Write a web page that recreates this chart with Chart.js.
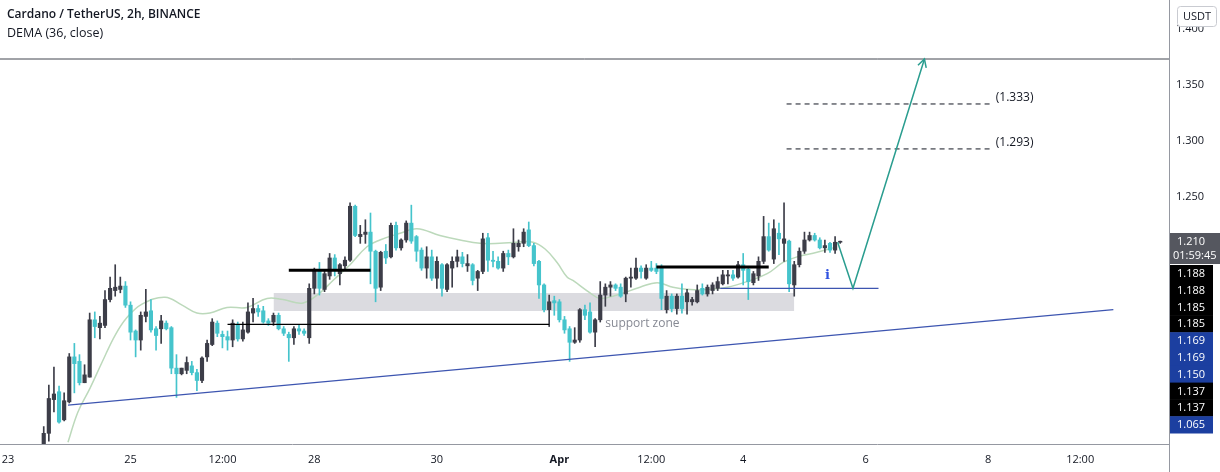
<!DOCTYPE html>
<html>
<head>
<meta charset="utf-8">
<script src="https://cdn.jsdelivr.net/npm/chart.js@4.4.1/dist/chart.umd.min.js"></script>
<style>
  html, body { margin: 0; padding: 0; background: #fff; }
  #wrap { width: 1220px; height: 472px; position: relative; }
</style>
</head>
<body>
<div id="wrap"><canvas id="chart"></canvas></div>
<script>
// 2h candles, first one opens Mar 23 14:00 (x axis = hours since Mar 23 00:00)
const firstHour = 14
const stepHours = 2

const opens = [
  1.028, 1.040, 1.070, 1.077, 1.052, 1.068, 1.108, 1.104, 1.085, 1.090,
  1.141, 1.134, 1.136, 1.159, 1.167, 1.168, 1.171, 1.154, 1.131, 1.123,
  1.144, 1.149, 1.133, 1.133, 1.138, 1.134, 1.098, 1.093, 1.096, 1.100,
  1.094, 1.087, 1.108, 1.119, 1.138, 1.128, 1.126, 1.123, 1.137, 1.124,
  1.130, 1.147, 1.151, 1.149, 1.140, 1.139, 1.145, 1.133, 1.128, 1.125,
  1.133, 1.131, 1.125, 1.169, 1.185, 1.168, 1.180, 1.196, 1.182, 1.189,
  1.194, 1.242, 1.215, 1.217, 1.219, 1.202, 1.170, 1.202, 1.197, 1.225,
  1.205, 1.212, 1.227, 1.215, 1.203, 1.187, 1.197, 1.178, 1.190, 1.168,
  1.187, 1.193, 1.197, 1.189, 1.190, 1.178, 1.184, 1.214, 1.194, 1.193,
  1.187, 1.200, 1.197, 1.206, 1.209, 1.221, 1.207, 1.193, 1.172, 1.150,
  1.158, 1.157, 1.141, 1.133, 1.121, 1.123, 1.150, 1.148, 1.130, 1.141,
  1.163, 1.170, 1.172, 1.170, 1.164, 1.178, 1.178, 1.187, 1.178, 1.187,
  1.187, 1.187, 1.150, 1.162, 1.151, 1.162, 1.157, 1.157, 1.157, 1.169,
  1.164, 1.167, 1.169, 1.173, 1.180, 1.181, 1.179, 1.190, 1.186, 1.174,
  1.180, 1.193, 1.215, 1.195, 1.218, 1.209, 1.211, 1.172, 1.190, 1.202,
  1.212, 1.216, 1.212, 1.205, 1.209, 1.203, 1.210
]
const highs = [
  1.046, 1.083, 1.099, 1.082, 1.076, 1.111, 1.120, 1.110, 1.101, 1.147,
  1.148, 1.144, 1.167, 1.179, 1.190, 1.179, 1.175, 1.157, 1.132, 1.148,
  1.168, 1.159, 1.135, 1.145, 1.140, 1.135, 1.110, 1.098, 1.108, 1.104,
  1.097, 1.108, 1.123, 1.142, 1.140, 1.131, 1.131, 1.141, 1.139, 1.139,
  1.156, 1.160, 1.154, 1.153, 1.142, 1.147, 1.147, 1.135, 1.130, 1.135,
  1.137, 1.133, 1.173, 1.187, 1.192, 1.185, 1.200, 1.199, 1.191, 1.197,
  1.245, 1.243, 1.225, 1.230, 1.236, 1.203, 1.202, 1.208, 1.227, 1.228,
  1.213, 1.229, 1.243, 1.216, 1.205, 1.206, 1.203, 1.197, 1.191, 1.191,
  1.197, 1.203, 1.201, 1.199, 1.191, 1.185, 1.218, 1.218, 1.202, 1.197,
  1.202, 1.203, 1.222, 1.212, 1.222, 1.228, 1.209, 1.194, 1.173, 1.163,
  1.162, 1.159, 1.144, 1.135, 1.134, 1.151, 1.154, 1.156, 1.142, 1.175,
  1.173, 1.175, 1.173, 1.173, 1.179, 1.187, 1.196, 1.189, 1.190, 1.193,
  1.191, 1.190, 1.167, 1.164, 1.164, 1.173, 1.168, 1.161, 1.172, 1.173,
  1.172, 1.174, 1.179, 1.185, 1.185, 1.185, 1.193, 1.200, 1.188, 1.184,
  1.197, 1.233, 1.227, 1.230, 1.227, 1.245, 1.212, 1.193, 1.205, 1.219,
  1.219, 1.218, 1.214, 1.212, 1.210, 1.215, 1.211
]
const lows = [
  1.020, 1.033, 1.059, 1.049, 1.051, 1.067, 1.076, 1.083, 1.085, 1.090,
  1.125, 1.124, 1.134, 1.157, 1.162, 1.165, 1.152, 1.123, 1.108, 1.114,
  1.139, 1.130, 1.114, 1.120, 1.132, 1.093, 1.072, 1.092, 1.093, 1.092,
  1.078, 1.085, 1.104, 1.118, 1.126, 1.116, 1.114, 1.117, 1.122, 1.122,
  1.129, 1.139, 1.144, 1.138, 1.136, 1.136, 1.132, 1.127, 1.104, 1.119,
  1.128, 1.127, 1.120, 1.164, 1.163, 1.166, 1.177, 1.180, 1.172, 1.185,
  1.193, 1.215, 1.209, 1.209, 1.173, 1.157, 1.167, 1.191, 1.196, 1.203,
  1.203, 1.210, 1.209, 1.193, 1.185, 1.178, 1.176, 1.169, 1.162, 1.166,
  1.170, 1.188, 1.188, 1.184, 1.172, 1.167, 1.182, 1.184, 1.188, 1.186,
  1.184, 1.190, 1.196, 1.202, 1.206, 1.206, 1.189, 1.160, 1.148, 1.135,
  1.145, 1.139, 1.129, 1.104, 1.120, 1.121, 1.141, 1.129, 1.117, 1.139,
  1.153, 1.162, 1.167, 1.161, 1.157, 1.170, 1.177, 1.178, 1.177, 1.184,
  1.182, 1.150, 1.147, 1.148, 1.146, 1.147, 1.146, 1.154, 1.156, 1.163,
  1.162, 1.164, 1.167, 1.172, 1.173, 1.176, 1.178, 1.172, 1.159, 1.172,
  1.176, 1.191, 1.202, 1.191, 1.199, 1.193, 1.166, 1.162, 1.188, 1.200,
  1.211, 1.211, 1.204, 1.201, 1.201, 1.200, 1.209
]
const closes = [
  1.040, 1.071, 1.075, 1.050, 1.069, 1.108, 1.102, 1.085, 1.092, 1.141,
  1.135, 1.138, 1.159, 1.169, 1.170, 1.171, 1.154, 1.130, 1.123, 1.145,
  1.148, 1.132, 1.127, 1.140, 1.133, 1.098, 1.093, 1.098, 1.103, 1.094,
  1.087, 1.107, 1.120, 1.139, 1.129, 1.126, 1.123, 1.138, 1.124, 1.132,
  1.148, 1.151, 1.148, 1.139, 1.138, 1.145, 1.133, 1.129, 1.125, 1.133,
  1.131, 1.129, 1.169, 1.185, 1.169, 1.182, 1.196, 1.185, 1.190, 1.194,
  1.242, 1.216, 1.217, 1.219, 1.202, 1.169, 1.201, 1.196, 1.225, 1.205,
  1.212, 1.227, 1.211, 1.202, 1.187, 1.197, 1.178, 1.193, 1.169, 1.190,
  1.193, 1.197, 1.191, 1.191, 1.176, 1.184, 1.213, 1.194, 1.193, 1.187,
  1.200, 1.197, 1.209, 1.209, 1.219, 1.207, 1.191, 1.172, 1.150, 1.157,
  1.156, 1.141, 1.132, 1.121, 1.123, 1.150, 1.145, 1.130, 1.141, 1.163,
  1.170, 1.172, 1.169, 1.162, 1.178, 1.179, 1.187, 1.184, 1.187, 1.185,
  1.184, 1.160, 1.162, 1.151, 1.162, 1.151, 1.165, 1.159, 1.167, 1.164,
  1.170, 1.172, 1.175, 1.181, 1.181, 1.178, 1.190, 1.185, 1.175, 1.182,
  1.193, 1.215, 1.203, 1.222, 1.213, 1.213, 1.173, 1.190, 1.202, 1.212,
  1.216, 1.212, 1.205, 1.207, 1.203, 1.210, 1.210
]

// DEMA (36, close)
const demaHours = [
  23.5, 27.4, 32.1, 36.8, 41.9, 46.6, 52.5, 61.5, 68.2, 74.0, 79.1, 85.8,
  93.6, 101.5, 107.7, 115.6, 122.2, 127.3, 134.0, 140.6, 145.7, 153.6,
  160.2, 169.2, 177.1, 184.9, 192.7, 199.4, 205.7, 210.4, 215.1, 219.0,
  221.3, 228.0, 231.9, 238.6, 247.6, 254.3, 260.5, 267.2, 273.9, 281.7,
  289.5, 297.4, 303.6, 309.1, 316.9, 323.2
]
const demaValues = [
  1.032, 1.059, 1.080, 1.103, 1.127, 1.143, 1.155, 1.161, 1.154, 1.147, 1.147, 1.152,
  1.152, 1.160, 1.159, 1.156, 1.165, 1.176, 1.190, 1.206, 1.212, 1.218,
  1.222, 1.216, 1.212, 1.209, 1.209, 1.210, 1.210, 1.204, 1.192, 1.179,
  1.176, 1.165, 1.160, 1.163, 1.170, 1.174, 1.170, 1.168, 1.168, 1.170,
  1.175, 1.182, 1.192, 1.197, 1.201, 1.205
]

const xTickHours = [0, 48, 84, 120, 168, 216, 252, 288, 336, 384, 420]
const xTickLabels = ['23', '25', '12:00', '28', '30', 'Apr', '12:00', '4', '6', '8', '12:00']
const yTicks = [1.25, 1.3, 1.35, 1.4]

// drawings: [hour, price]
const supportZone = [[104, 1.1648], [308, 1.1648]]
const supportZoneBottom = 1.1488
const rangeLine = [[86, 1.137], [212, 1.137]]
const breakLine1 = [[110, 1.185], [142, 1.185]]
const breakLine2 = [[254, 1.188], [298, 1.188]]
const retestLine = [[279, 1.169], [341, 1.169]]
const trendLine = [[23.5, 1.065], [433, 1.150]]
const topLine = [[-10, 1.373], [470, 1.373]]
const projection = [[325, 1.210], [331, 1.169], [359, 1.373]]
const targets = [1.333, 1.293]
const targetSpan = [305, 385]

const lastPrice = '1.210'
const countdown = '01:59:45'
const axisTags = ['1.188', '1.188', '1.185', '1.185', '1.169', '1.169', '1.150', '1.137', '1.137', '1.065']
const blueTags = ['1.169', '1.150', '1.065']

const UP = '#3c3d48'
const DOWN = '#45c4cc'
const FONT = '"Open Sans", "DejaVu Sans", sans-serif'

const times = opens.map((_, i) => firstHour + i * stepHours)
const isUp = closes.map((c, i) => c >= opens[i])
const pts = (arr) => arr.map(([x, y]) => ({ x, y }))

function lineSet(data, color, width, order, extra) {
  return Object.assign({
    type: 'line',
    data: pts(data),
    borderColor: color,
    borderWidth: width,
    pointRadius: 0,
    tension: 0,
    order,
  }, extra || {})
}

const overlay = {
  id: 'overlay',
  afterDatasetsDraw(chart) {
    const { ctx, scales: { x, y } } = chart
    ctx.save()
    // target labels
    ctx.font = '12px ' + FONT
    ctx.fillStyle = '#131722'
    ctx.textBaseline = 'middle'
    ctx.textAlign = 'left'
    targets.forEach((v) => {
      ctx.fillText('(' + v.toFixed(3) + ')', x.getPixelForValue(targetSpan[1]) + 5, y.getPixelForValue(v) - 6)
    })
    // support zone label
    ctx.fillStyle = '#868993'
    ctx.fillText('support zone', x.getPixelForValue(234), y.getPixelForValue(1.138))
    // info marker
    ctx.fillStyle = '#2f52e0'
    ctx.font = 'bold 13px "DejaVu Serif", serif'
    ctx.textAlign = 'center'
    ctx.fillText('i', x.getPixelForValue(321), y.getPixelForValue(1.180))
    // arrow head
    const a = projection[projection.length - 2]
    const b = projection[projection.length - 1]
    const ax = x.getPixelForValue(a[0]), ay = y.getPixelForValue(a[1])
    const bx = x.getPixelForValue(b[0]), by = y.getPixelForValue(b[1])
    const ang = Math.atan2(by - ay, bx - ax)
    ctx.strokeStyle = '#2a9d8f'
    ctx.lineWidth = 1.5
    ctx.beginPath()
    ctx.moveTo(bx - 9 * Math.cos(ang - 0.5), by - 9 * Math.sin(ang - 0.5))
    ctx.lineTo(bx, by)
    ctx.lineTo(bx - 9 * Math.cos(ang + 0.5), by - 9 * Math.sin(ang + 0.5))
    ctx.stroke()
    ctx.restore()
  },
  afterDraw(chart) {
    const { ctx, chartArea, scales: { y } } = chart
    const left = chartArea.right
    ctx.save()
    // header legend
    ctx.textAlign = 'left'
    ctx.textBaseline = 'middle'
    ctx.fillStyle = '#131722'
    ctx.font = '600 12px ' + FONT
    ctx.fillText('Cardano / TetherUS, 2h, BINANCE', 7, 15)
    ctx.font = '12.5px ' + FONT
    ctx.fillText('DEMA (36, close)', 7, 33)

    // axis line continues to the bottom
    ctx.strokeStyle = '#9598a1'
    ctx.lineWidth = 1
    ctx.beginPath()
    ctx.moveTo(left + 0.5, chartArea.bottom)
    ctx.lineTo(left + 0.5, chart.height)
    ctx.stroke()

    // USDT unit box
    ctx.fillStyle = '#fff'
    ctx.strokeStyle = '#c9cbd1'
    ctx.beginPath()
    ctx.roundRect(left + 8.5, 6.5, 39, 20, 3)
    ctx.fill()
    ctx.stroke()
    ctx.fillStyle = '#131722'
    ctx.font = '11px ' + FONT
    ctx.textAlign = 'center'
    ctx.fillText('USDT', left + 28, 17)

    // last price + countdown
    const py = y.getPixelForValue(parseFloat(lastPrice))
    const top = Math.round(py - 9)
    ctx.fillStyle = '#55575f'
    ctx.fillRect(left + 1, top, chart.width - left - 1, 31)
    ctx.fillStyle = '#fff'
    ctx.textAlign = 'left'
    ctx.fillText(lastPrice, left + 8, top + 9)
    ctx.fillText(countdown, left + 4, top + 23)

    // drawing price tags, stacked
    let ty = top + 32
    const h = 16.8
    axisTags.forEach((t) => {
      ctx.fillStyle = blueTags.includes(t) ? '#1c3fa0' : '#000000'
      ctx.fillRect(left + 1, ty, 43, h + 0.5)
      ctx.fillStyle = '#fff'
      ctx.fillText(t, left + 8, ty + h / 2 + 0.5)
      ty += h
    })
    ctx.restore()
  },
}

new Chart(document.getElementById('chart'), {
  type: 'bar',
  data: {
    datasets: [
      lineSet(projection, '#2a9d8f', 1.5, 1),
      lineSet(breakLine1, '#000000', 3, 2),
      lineSet(breakLine2, '#000000', 3, 2),
      lineSet(rangeLine, '#000000', 1.2, 2),
      lineSet(retestLine, '#3d55b0', 1.2, 2),
      lineSet(trendLine, '#3d55b0', 1.2, 2),
      lineSet(topLine, '#434651', 1, 2),
      ...targets.map((v) => lineSet([[targetSpan[0], v], [targetSpan[1], v]], '#131722', 1, 2, { borderDash: [5, 4] })),
      {
        type: 'bar',
        data: times.map((t, i) => ({ x: t, y: [opens[i], closes[i]] })),
        backgroundColor: isUp.map((u) => (u ? UP : DOWN)),
        barThickness: 3.5,
        minBarLength: 1,
        grouped: false,
        order: 5,
      },
      {
        type: 'bar',
        data: times.map((t, i) => ({ x: t, y: [lows[i], highs[i]] })),
        backgroundColor: isUp.map((u) => (u ? UP : DOWN)),
        barThickness: 1,
        grouped: false,
        order: 6,
      },
      {
        type: 'line',
        data: demaHours.map((h, i) => ({ x: h, y: demaValues[i] })),
        borderColor: '#bcd9bb',
        borderWidth: 1.5,
        pointRadius: 0,
        tension: 0.4,
        order: 8,
      },
      lineSet(supportZone, 'rgba(0,0,0,0)', 0, 10, {
        fill: { value: supportZoneBottom },
        backgroundColor: 'rgba(190,190,198,0.55)',
      }),
    ],
  },
  options: {
    responsive: true,
    maintainAspectRatio: false,
    animation: false,
    events: [],
    layout: { padding: 0 },
    plugins: { legend: { display: false }, tooltip: { enabled: false } },
    scales: {
      x: {
        type: 'linear',
        min: -3.13,
        max: 454.8,
        offset: false,
        grid: { display: false },
        border: { display: true, color: '#9598a1' },
        afterBuildTicks: (s) => { s.ticks = xTickHours.map((v) => ({ value: v })) },
        afterFit: (s) => { s.height = 28; s.paddingLeft = 0; s.paddingRight = 0 },
        ticks: {
          autoSkip: false,
          maxRotation: 0,
          padding: 1,
          color: '#131722',
          font: (c) => ({ family: FONT, size: 11, weight: xTickLabels[c.index] === 'Apr' ? 'bold' : 'normal' }),
          callback: (v, i) => xTickLabels[i],
        },
      },
      y: {
        type: 'linear',
        position: 'right',
        min: 1.0305,
        max: 1.4255,
        beginAtZero: false,
        grid: { display: false, drawTicks: false },
        border: { display: true, color: '#9598a1' },
        afterBuildTicks: (s) => { s.ticks = yTicks.map((v) => ({ value: v })) },
        afterFit: (s) => { s.width = 51; s.paddingTop = 0; s.paddingBottom = 0 },
        ticks: {
          padding: 7,
          color: '#131722',
          font: { family: FONT, size: 11 },
          callback: (v) => v.toFixed(3),
        },
      },
    },
  },
  plugins: [overlay],
})
</script>
</body>
</html>
